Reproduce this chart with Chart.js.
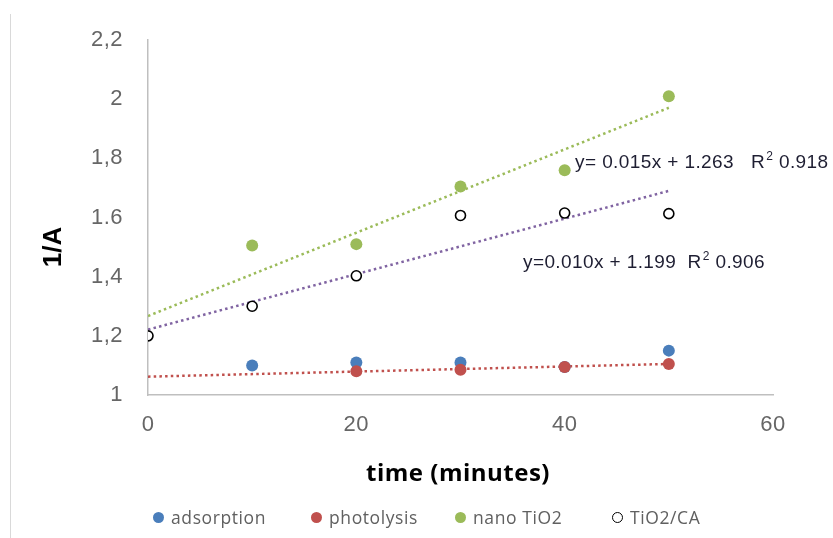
<!DOCTYPE html>
<html>
<head>
<meta charset="utf-8">
<script src="https://cdn.jsdelivr.net/npm/chart.js@4.4.1/dist/chart.umd.min.js"></script>
<style>
  html, body { margin: 0; padding: 0; background: #fff; }
  #wrap { position: relative; width: 833px; height: 538px; overflow: hidden; }
  #frame { position: absolute; left: 10px; top: 14px; bottom: 0; border-left: 1px solid #d9d9d9; }
  #legend { font-family: "Open Sans", sans-serif; font-size: 17.5px; letter-spacing: 0.6px; color: #606060; }
  #legend span.item { position: absolute; top: 505px; display: flex; align-items: center; white-space: nowrap; }
  #legend i { display: inline-block; width: 11px; height: 11px; border-radius: 50%; margin-right: 7px; box-sizing: border-box; }
</style>
</head>
<body>
<div id="wrap">
  <canvas id="chart" width="833" height="538"></canvas>
  <div id="frame"></div>
  <div id="legend"></div>
</div>
<script>
const timeMin = [0, 10, 20, 30, 40, 50];
const adsorption = [null, 1.10, 1.11, 1.11, 1.095, 1.15];
const photolysis = [null, null, 1.08, 1.085, 1.095, 1.105];
const nanoTiO2 = [null, 1.505, 1.51, 1.705, 1.76, 2.01];
const tio2CA = [1.2, 1.3, 1.403, 1.607, 1.615, 1.613];

const trendX = [0, 50];
const trendPhotolysis = [1.062, 1.105];
const trendNano = [1.267, 1.971];
const trendCA = [1.221, 1.69];

const yTickLabels = ['1', '1,2', '1,4', '1.6', '1,8', '2', '2,2'];
const xTickLabels = ['0', '20', '40', '60'];

const equations = [
  { x: 41, y: 1.784, text: 'y= 0.015x + 1.263   R', sup: '2', tail: ' 0.918' },
  { x: 36, y: 1.446, text: 'y=0.010x + 1.199  R', sup: '2', tail: ' 0.906' }
];

const BLUE = '#4a7ebb', RED = '#c0504d', GREEN = '#9bbb59', PURPLE = '#8064a2';

function pts(xs, ys) {
  return xs.map((x, i) => ({ x, y: ys[i] })).filter(p => p.y !== null);
}
function trend(label, ys, color) {
  return {
    label, data: pts(trendX, ys), showLine: true, borderColor: color, borderWidth: 2.5,
    borderDash: [2.5, 3.2], pointRadius: 0, fill: false, order: 10
  };
}
function markers(label, ys, fillColor, strokeColor, order) {
  const hollow = strokeColor !== fillColor;
  return {
    label, data: pts(timeMin, ys), showLine: false, order,
    pointRadius: hollow ? 5 : 6,
    pointBackgroundColor: fillColor, pointBorderColor: strokeColor,
    pointBorderWidth: hollow ? 1.6 : 0
  };
}

const overlay = {
  id: 'overlay',
  beforeDraw(chart) {
    // slightly wider tick lettering, as in the original
    chart.ctx.letterSpacing = '0.5px';
  },
  afterDraw(chart) {
    const { ctx, scales: { x, y } } = chart;
    ctx.save();
    // trendline equations
    ctx.fillStyle = '#1e1e32';
    ctx.textBaseline = 'middle';
    ctx.textAlign = 'left';
    ctx.letterSpacing = '0.4px';
    equations.forEach(eq => {
      let px = x.getPixelForValue(eq.x);
      const py = y.getPixelForValue(eq.y);
      ctx.font = '19px "Liberation Sans", Arial, sans-serif';
      ctx.fillText(eq.text, px, py);
      px += ctx.measureText(eq.text).width + 1;
      ctx.font = '12px "Liberation Sans", Arial, sans-serif';
      ctx.fillText(eq.sup, px, py - 6);
      px += ctx.measureText(eq.sup).width;
      ctx.font = '19px "Liberation Sans", Arial, sans-serif';
      ctx.fillText(eq.tail, px, py);
    });
    // axis titles
    ctx.fillStyle = '#000';
    ctx.textAlign = 'center';
    ctx.letterSpacing = '0.5px';
    ctx.font = 'bold 24px "Open Sans", sans-serif';
    ctx.fillText('time (minutes)', 458, 474);
    ctx.letterSpacing = '0px';
    ctx.translate(54, 247);
    ctx.rotate(-Math.PI / 2);
    ctx.font = 'bold 26px "Liberation Sans", Arial, sans-serif';
    ctx.fillText('1/A', 0, 0);
    ctx.restore();
  }
};

new Chart(document.getElementById('chart'), {
  type: 'scatter',
  data: {
    datasets: [
      markers('adsorption', adsorption, BLUE, BLUE, 4),
      markers('photolysis', photolysis, RED, RED, 3),
      markers('nano TiO2', nanoTiO2, GREEN, GREEN, 2),
      markers('TiO2/CA', tio2CA, '#ffffff', '#000000', 1),
      trend('trend photolysis', trendPhotolysis, RED),
      trend('trend nano TiO2', trendNano, GREEN),
      trend('trend TiO2/CA', trendCA, PURPLE)
    ]
  },
  options: {
    responsive: false,
    animation: false,
    layout: { padding: { left: 0, top: 40, right: 60, bottom: 0 } },
    plugins: { legend: { display: false }, tooltip: { enabled: false } },
    scales: {
      x: {
        type: 'linear', min: 0, max: 60,
        afterFit: s => { s.height = 143; },
        grid: { display: false, drawTicks: false },
        border: { display: true, color: '#bfbfbf', width: 1.5 },
        ticks: {
          stepSize: 20, padding: 17, color: '#666666',
          font: { family: '"Liberation Sans", Arial, sans-serif', size: 22 },
          callback: (v, i) => xTickLabels[i]
        }
      },
      y: {
        min: 1, max: 2.2,
        afterFit: s => { s.width = 148; },
        grid: { display: false, drawTicks: false },
        border: { display: true, color: '#bfbfbf', width: 1.5 },
        ticks: {
          stepSize: 0.2, padding: 25, color: '#666666',
          font: { family: '"Liberation Sans", Arial, sans-serif', size: 22 },
          callback: (v, i) => yTickLabels[i]
        }
      }
    }
  },
  plugins: [overlay]
});

const legendItems = [
  { label: 'adsorption', fill: BLUE, stroke: BLUE, left: 153 },
  { label: 'photolysis', fill: RED, stroke: RED, left: 311 },
  { label: 'nano TiO2', fill: GREEN, stroke: GREEN, left: 455 },
  { label: 'TiO2/CA', fill: '#fff', stroke: '#000', left: 612 }
];
document.getElementById('legend').innerHTML = legendItems.map(it =>
  `<span class="item" style="left:${it.left}px"><i style="background:${it.fill};border:${it.fill === it.stroke ? 'none' : '1.8px solid ' + it.stroke}"></i>${it.label}</span>`
).join('');
</script>
</body>
</html>
